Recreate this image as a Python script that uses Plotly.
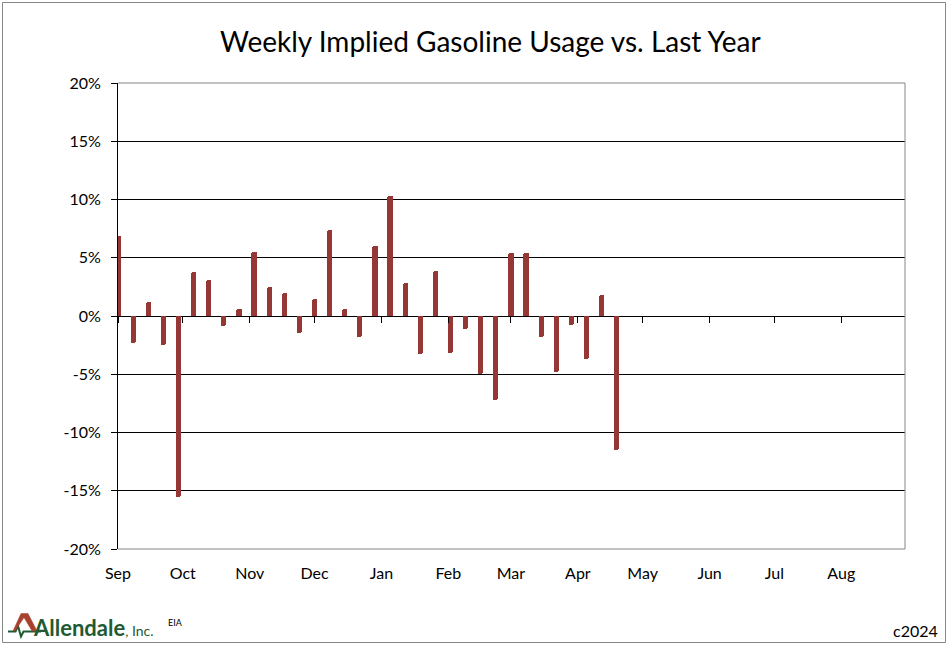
import plotly.graph_objects as go
import pandas as pd

# ---------------- data ----------------
week_dates = pd.date_range("2023-09-01", periods=34, freq="7D").strftime("%Y-%m-%d").tolist()
usage_vs_last_year = [
    6.9, -2.3, 1.2, -2.5, -15.5, 3.8, 3.1, -0.9, 0.6, 5.5,
    2.5, 2.0, -1.5, 1.5, 7.4, 0.6, -1.8, 6.0, 10.3, 2.8,
    -3.3, 3.9, -3.2, -1.1, -5.0, -7.2, 5.4, 5.4, -1.8, -4.8,
    -0.8, -3.7, 1.8, -11.5,
]
y_tick_values = [-20, -15, -10, -5, 0, 5, 10, 15, 20]
y_tick_labels = ["-20%", "-15%", "-10%", "-5%", "0%", "5%", "10%", "15%", "20%"]
month_ticks = pd.date_range("2023-09-01", periods=12, freq="MS").strftime("%Y-%m-%d").tolist()
month_labels = ["Sep", "Oct", "Nov", "Dec", "Jan", "Feb", "Mar", "Apr", "May", "Jun", "Jul", "Aug"]
x_range = ["2023-09-01", "2024-08-30 12:00"]

# ---------------- layout helpers ----------------
W, H = 952, 647
L, R, T, B = 118, 47, 83, 98
PW, PH = W - L - R, H - T - B


def px(x):
    return (x - L) / PW


def py(y):
    return (H - B - y) / PH


FONT = "Lato, 'Open Sans', sans-serif"
BAR_COLOR = "#953735"
GREEN = "#1F5A32"
LOGO_RED = "#A8402E"

fig = go.Figure()
fig.add_trace(go.Bar(
    x=week_dates, y=usage_vs_last_year,
    width=2.4 * 86400000,
    marker=dict(color=BAR_COLOR, line=dict(width=0), cornerradius=2),
    showlegend=False, hoverinfo="x+y",
))
# helper trace for the axis that carries the month ticks on the zero line
fig.add_trace(go.Scatter(
    x=week_dates[:1], y=[0], xaxis="x2", mode="markers",
    marker=dict(opacity=0), showlegend=False, hoverinfo="skip",
))

shapes = [
    # outer chart border
    dict(type="rect", xref="paper", yref="paper",
         x0=px(2.5), x1=px(945.5), y0=py(642.5), y1=py(2.5),
         line=dict(color="#868686", width=1), layer="below"),
    # plot area border (top, right, bottom)
    dict(type="path", xref="paper", yref="paper",
         path="M 0,1 L 1,1 L 1,0 L 0,0",
         line=dict(color="#868686", width=1), layer="above"),
    # logo: heartbeat line
    dict(type="path", xref="paper", yref="paper",
         path=(f"M {px(8)},{py(631.5)} L {px(15.5)},{py(631.5)} L {px(18)},{py(626)} "
               f"L {px(21)},{py(636.5)} L {px(23.5)},{py(631.5)} L {px(41)},{py(631.5)}"),
         line=dict(color=GREEN, width=2)),
    # logo: red mountain
    dict(type="path", xref="paper", yref="paper",
         path=(f"M {px(13)},{py(631)} L {px(21)},{py(613.5)} L {px(28)},{py(613.5)} "
               f"L {px(37)},{py(631)} L {px(32)},{py(631)} L {px(24)},{py(617.5)} "
               f"L {px(15)},{py(631)} Z"),
         fillcolor=LOGO_RED, line=dict(color=LOGO_RED, width=0.5)),
]

annotations = [
    dict(text="Weekly Implied Gasoline Usage vs. Last Year", xref="paper", yref="paper",
         x=px(490), y=py(41), showarrow=False, xanchor="center", yanchor="middle",
         font=dict(family=FONT, size=28, color="black")),
    dict(text="<b>Allendale</b><span style='font-size:14px'>, Inc.</span>",
         xref="paper", yref="paper",
         x=px(31), y=py(627), showarrow=False, xanchor="left", yanchor="middle",
         font=dict(family=FONT, size=22, color=GREEN)),
    dict(text="EIA", xref="paper", yref="paper",
         x=px(166), y=py(622), showarrow=False, xanchor="left", yanchor="middle",
         font=dict(family=FONT, size=9, color="black")),
    dict(text="c2024", xref="paper", yref="paper",
         x=px(940), y=py(630), showarrow=False, xanchor="right", yanchor="middle",
         font=dict(family=FONT, size=16, color="black")),
]

fig.update_layout(
    width=W, height=H,
    margin=dict(l=L, r=R, t=T, b=B),
    paper_bgcolor="white", plot_bgcolor="white",
    font=dict(family=FONT, size=16, color="black"),
    bargap=0,
    showlegend=False,
    shapes=shapes,
    annotations=annotations,
    xaxis=dict(
        type="date", range=x_range,
        tickvals=month_ticks, ticktext=month_labels,
        ticks="", showgrid=False, showline=False, zeroline=False,
        tickfont=dict(size=16), ticklabelstandoff=13,
    ),
    xaxis2=dict(
        type="date", range=x_range, overlaying="x", anchor="free",
        position=py(316.3), side="bottom",
        tickvals=month_ticks, ticks="outside", ticklen=6, tickcolor="black",
        tickwidth=1, showticklabels=False, showgrid=False, showline=False,
        zeroline=False,
    ),
    yaxis=dict(
        range=[-20, 20], tickvals=y_tick_values, ticktext=y_tick_labels,
        showgrid=True, gridcolor="black", gridwidth=1,
        zeroline=True, zerolinecolor="black", zerolinewidth=1,
        showline=True, linecolor="black", linewidth=1,
        ticks="outside", ticklen=6, tickcolor="black",
        tickfont=dict(size=16), ticklabelstandoff=7,
    ),
)

fig.write_html("out.html", config={"displayModeBar": False},
               post_script="document.body.style.margin='0px';")
